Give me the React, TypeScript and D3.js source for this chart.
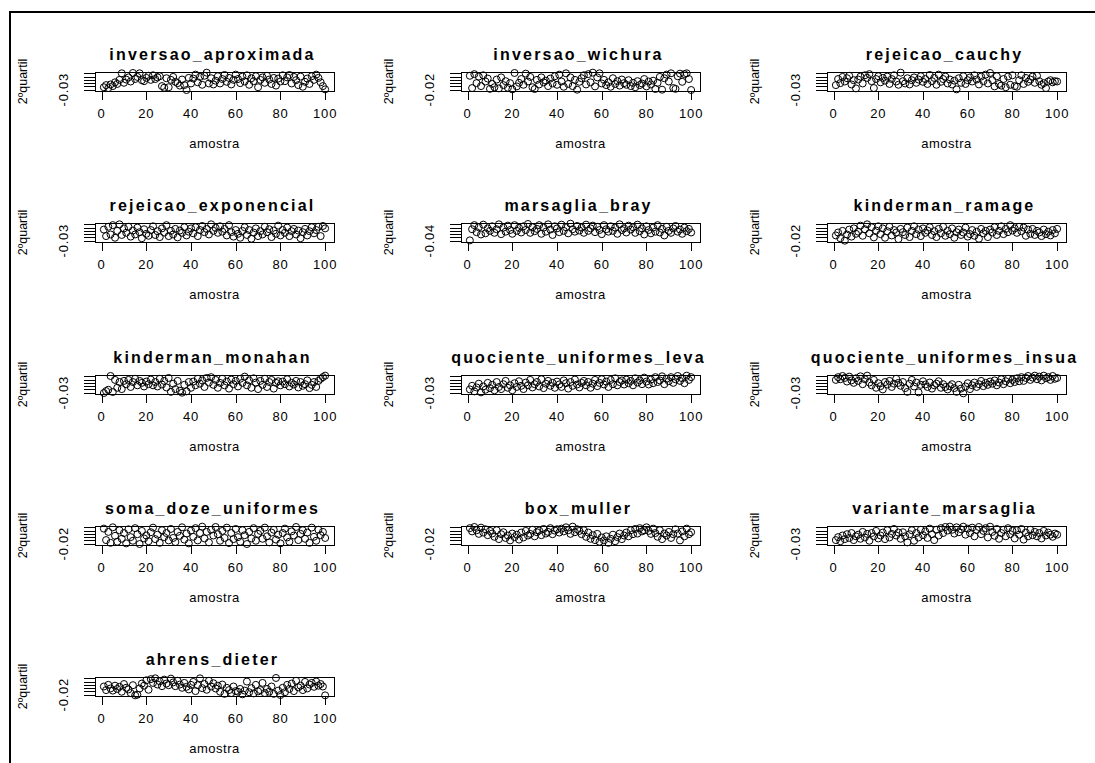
import React from "react";
import * as d3 from "d3";

// ---------- data ----------
const panelTitles = [
  "inversao_aproximada", "inversao_wichura", "rejeicao_cauchy",
  "rejeicao_exponencial", "marsaglia_bray", "kinderman_ramage",
  "kinderman_monahan", "quociente_uniformes_leva", "quociente_uniformes_insua",
  "soma_doze_uniformes", "box_muller", "variante_marsaglia",
  "ahrens_dieter",
];
const yLabelValues = [-0.03, -0.02, -0.03, -0.03, -0.04, -0.02, -0.03, -0.03, -0.03, -0.02, -0.02, -0.03, -0.02];
const yLabelTexts = ["-0.03", "-0.02", "-0.03", "-0.03", "-0.04", "-0.02", "-0.03", "-0.03", "-0.03", "-0.02", "-0.02", "-0.03", "-0.02"];
const yMinorStep = 0.002;
const yMinorCount = 6;
const xTicks = [0, 20, 40, 60, 80, 100];
const xTickLabels = ["0", "20", "40", "60", "80", "100"];
const xLabel = "amostra";
const yLabel = "2ºquartil";

const inversaoAproximada = [
  -0.0285, -0.0272, -0.0290, -0.0268, -0.0278, -0.0255, -0.0265, -0.0240, -0.0200, -0.0258,
  -0.0238, -0.0225, -0.0250, -0.0198, -0.0235, -0.0222, -0.0200, -0.0242, -0.0248, -0.0228,
  -0.0215, -0.0240, -0.0212, -0.0235, -0.0225, -0.0218, -0.0278, -0.0288, -0.0230, -0.0285,
  -0.0240, -0.0222, -0.0252, -0.0260, -0.0275, -0.0238, -0.0272, -0.0302, -0.0228, -0.0262,
  -0.0232, -0.0208, -0.0255, -0.0222, -0.0270, -0.0215, -0.0196, -0.0262, -0.0230, -0.0268,
  -0.0245, -0.0218, -0.0262, -0.0235, -0.0210, -0.0252, -0.0228, -0.0268, -0.0240, -0.0208,
  -0.0235, -0.0260, -0.0220, -0.0250, -0.0212, -0.0270, -0.0230, -0.0248, -0.0218, -0.0285,
  -0.0240, -0.0225, -0.0258, -0.0215, -0.0238, -0.0265, -0.0228, -0.0275, -0.0232, -0.0250,
  -0.0212, -0.0248, -0.0225, -0.0210, -0.0262, -0.0222, -0.0242, -0.0272, -0.0220, -0.0282,
  -0.0252, -0.0232, -0.0265, -0.0218, -0.0240, -0.0208, -0.0228, -0.0255, -0.0278, -0.0298,
];
const inversaoWichura = [
  -0.0115, -0.0190, -0.0105, -0.0160, -0.0120, -0.0178, -0.0112, -0.0150, -0.0132, -0.0195,
  -0.0165, -0.0185, -0.0138, -0.0192, -0.0125, -0.0172, -0.0148, -0.0188, -0.0160, -0.0198,
  -0.0098, -0.0180, -0.0158, -0.0135, -0.0170, -0.0102, -0.0150, -0.0122, -0.0185, -0.0196,
  -0.0140, -0.0168, -0.0125, -0.0155, -0.0145, -0.0178, -0.0132, -0.0162, -0.0118, -0.0170,
  -0.0108, -0.0150, -0.0182, -0.0100, -0.0165, -0.0125, -0.0178, -0.0140, -0.0200, -0.0152,
  -0.0130, -0.0112, -0.0168, -0.0105, -0.0155, -0.0096, -0.0180, -0.0125, -0.0100, -0.0162,
  -0.0140, -0.0172, -0.0155, -0.0182, -0.0130, -0.0165, -0.0148, -0.0175, -0.0138, -0.0160,
  -0.0170, -0.0142, -0.0178, -0.0158, -0.0185, -0.0148, -0.0172, -0.0162, -0.0135, -0.0180,
  -0.0150, -0.0168, -0.0145, -0.0196, -0.0158, -0.0122, -0.0200, -0.0130, -0.0108, -0.0150,
  -0.0100, -0.0190, -0.0195, -0.0118, -0.0102, -0.0152, -0.0105, -0.0100, -0.0135, -0.0202,
];
const rejeicaoCauchy = [
  -0.0272, -0.0235, -0.0260, -0.0222, -0.0250, -0.0230, -0.0215, -0.0268, -0.0242, -0.0292,
  -0.0238, -0.0220, -0.0262, -0.0212, -0.0228, -0.0205, -0.0248, -0.0290, -0.0235, -0.0218,
  -0.0255, -0.0228, -0.0245, -0.0220, -0.0265, -0.0235, -0.0212, -0.0250, -0.0270, -0.0196,
  -0.0248, -0.0262, -0.0230, -0.0268, -0.0242, -0.0225, -0.0258, -0.0238, -0.0218, -0.0252,
  -0.0235, -0.0265, -0.0210, -0.0248, -0.0228, -0.0270, -0.0208, -0.0252, -0.0235, -0.0220,
  -0.0262, -0.0238, -0.0268, -0.0245, -0.0298, -0.0230, -0.0258, -0.0218, -0.0265, -0.0242,
  -0.0225, -0.0250, -0.0212, -0.0238, -0.0268, -0.0220, -0.0248, -0.0208, -0.0262, -0.0198,
  -0.0242, -0.0280, -0.0218, -0.0265, -0.0275, -0.0235, -0.0285, -0.0220, -0.0270, -0.0212,
  -0.0278, -0.0282, -0.0242, -0.0212, -0.0265, -0.0228, -0.0252, -0.0238, -0.0220, -0.0258,
  -0.0215, -0.0248, -0.0270, -0.0260, -0.0290, -0.0250, -0.0242, -0.0255, -0.0248, -0.0250,
];
const rejeicaoExponencial = [
  -0.0232, -0.0272, -0.0215, -0.0262, -0.0205, -0.0282, -0.0240, -0.0200, -0.0265, -0.0225,
  -0.0252, -0.0215, -0.0275, -0.0238, -0.0262, -0.0220, -0.0248, -0.0285, -0.0230, -0.0258,
  -0.0270, -0.0235, -0.0212, -0.0265, -0.0242, -0.0278, -0.0225, -0.0250, -0.0205, -0.0272,
  -0.0240, -0.0262, -0.0228, -0.0280, -0.0238, -0.0252, -0.0218, -0.0268, -0.0245, -0.0225,
  -0.0255, -0.0218, -0.0272, -0.0235, -0.0210, -0.0248, -0.0228, -0.0262, -0.0200, -0.0240,
  -0.0222, -0.0252, -0.0212, -0.0245, -0.0228, -0.0268, -0.0205, -0.0248, -0.0275, -0.0235,
  -0.0258, -0.0282, -0.0240, -0.0218, -0.0265, -0.0235, -0.0288, -0.0250, -0.0225, -0.0272,
  -0.0242, -0.0262, -0.0215, -0.0248, -0.0230, -0.0278, -0.0238, -0.0258, -0.0208, -0.0268,
  -0.0235, -0.0252, -0.0220, -0.0272, -0.0242, -0.0228, -0.0262, -0.0238, -0.0285, -0.0248,
  -0.0228, -0.0268, -0.0242, -0.0218, -0.0255, -0.0235, -0.0215, -0.0272, -0.0210, -0.0225,
];
const marsagliaBray = [
  -0.0398, -0.0330, -0.0305, -0.0348, -0.0318, -0.0362, -0.0302, -0.0355, -0.0325, -0.0340,
  -0.0312, -0.0352, -0.0330, -0.0300, -0.0360, -0.0320, -0.0345, -0.0308, -0.0335, -0.0358,
  -0.0305, -0.0340, -0.0322, -0.0350, -0.0312, -0.0335, -0.0298, -0.0352, -0.0318, -0.0342,
  -0.0328, -0.0305, -0.0358, -0.0320, -0.0345, -0.0300, -0.0332, -0.0365, -0.0312, -0.0325,
  -0.0348, -0.0302, -0.0340, -0.0318, -0.0355, -0.0296, -0.0330, -0.0345, -0.0310, -0.0338,
  -0.0320, -0.0352, -0.0302, -0.0340, -0.0325, -0.0308, -0.0348, -0.0315, -0.0335, -0.0360,
  -0.0305, -0.0330, -0.0345, -0.0312, -0.0340, -0.0320, -0.0358, -0.0300, -0.0335, -0.0325,
  -0.0350, -0.0308, -0.0332, -0.0318, -0.0352, -0.0302, -0.0342, -0.0325, -0.0362, -0.0312,
  -0.0335, -0.0355, -0.0320, -0.0345, -0.0305, -0.0350, -0.0328, -0.0368, -0.0315, -0.0340,
  -0.0352, -0.0325, -0.0310, -0.0345, -0.0332, -0.0358, -0.0320, -0.0342, -0.0328, -0.0350,
];
const kindermanRamage = [
  -0.0168, -0.0150, -0.0185, -0.0140, -0.0200, -0.0162, -0.0132, -0.0175, -0.0125, -0.0158,
  -0.0145, -0.0108, -0.0170, -0.0130, -0.0100, -0.0155, -0.0118, -0.0180, -0.0138, -0.0112,
  -0.0160, -0.0125, -0.0182, -0.0142, -0.0115, -0.0168, -0.0135, -0.0150, -0.0190, -0.0128,
  -0.0148, -0.0165, -0.0120, -0.0178, -0.0140, -0.0112, -0.0160, -0.0132, -0.0172, -0.0125,
  -0.0152, -0.0138, -0.0118, -0.0165, -0.0142, -0.0178, -0.0128, -0.0155, -0.0115, -0.0170,
  -0.0140, -0.0160, -0.0125, -0.0182, -0.0148, -0.0132, -0.0165, -0.0150, -0.0120, -0.0175,
  -0.0160, -0.0135, -0.0170, -0.0145, -0.0188, -0.0128, -0.0155, -0.0140, -0.0178, -0.0132,
  -0.0150, -0.0118, -0.0165, -0.0140, -0.0112, -0.0160, -0.0128, -0.0148, -0.0105, -0.0138,
  -0.0125, -0.0152, -0.0115, -0.0142, -0.0120, -0.0170, -0.0132, -0.0158, -0.0128, -0.0165,
  -0.0140, -0.0150, -0.0172, -0.0132, -0.0160, -0.0145, -0.0168, -0.0135, -0.0155, -0.0128,
];
const kindermanMonahan = [
  -0.0302, -0.0290, -0.0282, -0.0198, -0.0296, -0.0222, -0.0270, -0.0235, -0.0278, -0.0228,
  -0.0248, -0.0222, -0.0265, -0.0235, -0.0215, -0.0255, -0.0228, -0.0240, -0.0262, -0.0232,
  -0.0248, -0.0220, -0.0255, -0.0235, -0.0262, -0.0215, -0.0250, -0.0228, -0.0268, -0.0210,
  -0.0295, -0.0245, -0.0278, -0.0228, -0.0288, -0.0300, -0.0252, -0.0292, -0.0235, -0.0270,
  -0.0232, -0.0255, -0.0215, -0.0245, -0.0225, -0.0265, -0.0210, -0.0238, -0.0205, -0.0252,
  -0.0222, -0.0270, -0.0240, -0.0215, -0.0255, -0.0232, -0.0275, -0.0220, -0.0248, -0.0228,
  -0.0262, -0.0215, -0.0240, -0.0202, -0.0255, -0.0225, -0.0270, -0.0212, -0.0238, -0.0278,
  -0.0228, -0.0252, -0.0215, -0.0265, -0.0235, -0.0222, -0.0275, -0.0240, -0.0230, -0.0255,
  -0.0232, -0.0248, -0.0218, -0.0262, -0.0240, -0.0250, -0.0228, -0.0268, -0.0235, -0.0258,
  -0.0248, -0.0225, -0.0272, -0.0252, -0.0235, -0.0265, -0.0228, -0.0215, -0.0205, -0.0196,
];
const quocienteUniformesLeva = [
  -0.0280, -0.0258, -0.0292, -0.0268, -0.0245, -0.0298, -0.0262, -0.0282, -0.0240, -0.0272,
  -0.0252, -0.0285, -0.0235, -0.0265, -0.0278, -0.0248, -0.0228, -0.0270, -0.0255, -0.0285,
  -0.0242, -0.0265, -0.0230, -0.0258, -0.0278, -0.0238, -0.0255, -0.0222, -0.0268, -0.0248,
  -0.0235, -0.0262, -0.0218, -0.0272, -0.0245, -0.0228, -0.0258, -0.0240, -0.0270, -0.0232,
  -0.0250, -0.0265, -0.0225, -0.0242, -0.0275, -0.0235, -0.0258, -0.0220, -0.0250, -0.0268,
  -0.0240, -0.0228, -0.0255, -0.0235, -0.0270, -0.0245, -0.0222, -0.0260, -0.0240, -0.0218,
  -0.0250, -0.0232, -0.0265, -0.0222, -0.0248, -0.0212, -0.0255, -0.0235, -0.0225, -0.0250,
  -0.0220, -0.0242, -0.0228, -0.0255, -0.0212, -0.0238, -0.0225, -0.0248, -0.0208, -0.0232,
  -0.0250, -0.0220, -0.0242, -0.0205, -0.0235, -0.0225, -0.0200, -0.0248, -0.0215, -0.0230,
  -0.0205, -0.0240, -0.0218, -0.0198, -0.0228, -0.0212, -0.0242, -0.0196, -0.0222, -0.0205,
];
const quocienteUniformesInsua = [
  -0.0222, -0.0205, -0.0218, -0.0198, -0.0210, -0.0232, -0.0202, -0.0225, -0.0240, -0.0212,
  -0.0228, -0.0200, -0.0248, -0.0218, -0.0196, -0.0238, -0.0255, -0.0222, -0.0270, -0.0242,
  -0.0260, -0.0280, -0.0235, -0.0250, -0.0228, -0.0265, -0.0245, -0.0215, -0.0240, -0.0258,
  -0.0235, -0.0272, -0.0295, -0.0245, -0.0222, -0.0262, -0.0238, -0.0298, -0.0252, -0.0230,
  -0.0250, -0.0265, -0.0238, -0.0275, -0.0255, -0.0245, -0.0230, -0.0270, -0.0248, -0.0265,
  -0.0280, -0.0260, -0.0248, -0.0272, -0.0295, -0.0252, -0.0275, -0.0304, -0.0262, -0.0242,
  -0.0278, -0.0255, -0.0238, -0.0265, -0.0248, -0.0228, -0.0260, -0.0240, -0.0252, -0.0232,
  -0.0245, -0.0225, -0.0255, -0.0238, -0.0218, -0.0248, -0.0230, -0.0215, -0.0242, -0.0222,
  -0.0235, -0.0212, -0.0230, -0.0205, -0.0228, -0.0210, -0.0198, -0.0222, -0.0208, -0.0196,
  -0.0218, -0.0202, -0.0225, -0.0196, -0.0212, -0.0205, -0.0222, -0.0198, -0.0215, -0.0210,
];
const somaDozeUniformes = [
  -0.0108, -0.0178, -0.0128, -0.0195, -0.0100, -0.0152, -0.0188, -0.0118, -0.0170, -0.0135,
  -0.0198, -0.0112, -0.0160, -0.0182, -0.0105, -0.0142, -0.0202, -0.0122, -0.0168, -0.0150,
  -0.0185, -0.0130, -0.0102, -0.0172, -0.0145, -0.0195, -0.0118, -0.0160, -0.0135, -0.0180,
  -0.0110, -0.0165, -0.0190, -0.0128, -0.0152, -0.0100, -0.0175, -0.0138, -0.0198, -0.0120,
  -0.0158, -0.0105, -0.0180, -0.0135, -0.0096, -0.0168, -0.0128, -0.0192, -0.0115, -0.0150,
  -0.0098, -0.0142, -0.0182, -0.0122, -0.0165, -0.0102, -0.0196, -0.0135, -0.0172, -0.0110,
  -0.0160, -0.0188, -0.0118, -0.0148, -0.0202, -0.0128, -0.0168, -0.0105, -0.0182, -0.0140,
  -0.0122, -0.0170, -0.0102, -0.0155, -0.0192, -0.0132, -0.0115, -0.0175, -0.0145, -0.0198,
  -0.0135, -0.0108, -0.0162, -0.0188, -0.0125, -0.0150, -0.0098, -0.0178, -0.0140, -0.0118,
  -0.0170, -0.0132, -0.0195, -0.0102, -0.0158, -0.0182, -0.0115, -0.0148, -0.0128, -0.0165,
];
const boxMuller = [
  -0.0105, -0.0125, -0.0098, -0.0118, -0.0140, -0.0102, -0.0132, -0.0112, -0.0148, -0.0122,
  -0.0138, -0.0158, -0.0118, -0.0172, -0.0142, -0.0130, -0.0165, -0.0150, -0.0180, -0.0138,
  -0.0160, -0.0145, -0.0175, -0.0132, -0.0162, -0.0122, -0.0150, -0.0140, -0.0115, -0.0155,
  -0.0130, -0.0120, -0.0148, -0.0110, -0.0138, -0.0128, -0.0105, -0.0142, -0.0120, -0.0112,
  -0.0132, -0.0108, -0.0125, -0.0100, -0.0118, -0.0140, -0.0096, -0.0130, -0.0112, -0.0122,
  -0.0142, -0.0118, -0.0158, -0.0132, -0.0170, -0.0148, -0.0178, -0.0140, -0.0188, -0.0162,
  -0.0180, -0.0155, -0.0195, -0.0170, -0.0145, -0.0185, -0.0160, -0.0138, -0.0172, -0.0150,
  -0.0132, -0.0155, -0.0118, -0.0142, -0.0110, -0.0138, -0.0105, -0.0125, -0.0118, -0.0100,
  -0.0122, -0.0140, -0.0108, -0.0135, -0.0158, -0.0118, -0.0172, -0.0138, -0.0150, -0.0128,
  -0.0165, -0.0142, -0.0112, -0.0138, -0.0180, -0.0125, -0.0155, -0.0108, -0.0142, -0.0130,
];
const varianteMarsaglia = [
  -0.0278, -0.0260, -0.0285, -0.0250, -0.0272, -0.0242, -0.0265, -0.0235, -0.0278, -0.0255,
  -0.0245, -0.0270, -0.0228, -0.0262, -0.0240, -0.0282, -0.0235, -0.0255, -0.0222, -0.0268,
  -0.0250, -0.0232, -0.0272, -0.0218, -0.0262, -0.0240, -0.0210, -0.0250, -0.0232, -0.0270,
  -0.0230, -0.0255, -0.0292, -0.0242, -0.0218, -0.0282, -0.0235, -0.0262, -0.0215, -0.0248,
  -0.0225, -0.0265, -0.0208, -0.0242, -0.0278, -0.0215, -0.0250, -0.0205, -0.0235, -0.0198,
  -0.0220, -0.0196, -0.0215, -0.0238, -0.0200, -0.0230, -0.0212, -0.0196, -0.0245, -0.0208,
  -0.0235, -0.0202, -0.0255, -0.0215, -0.0198, -0.0242, -0.0222, -0.0205, -0.0262, -0.0196,
  -0.0228, -0.0252, -0.0210, -0.0270, -0.0235, -0.0215, -0.0255, -0.0205, -0.0242, -0.0222,
  -0.0268, -0.0218, -0.0245, -0.0210, -0.0275, -0.0232, -0.0255, -0.0215, -0.0248, -0.0228,
  -0.0255, -0.0235, -0.0268, -0.0222, -0.0250, -0.0232, -0.0245, -0.0258, -0.0238, -0.0245,
];
const ahrensDieter = [
  -0.0150, -0.0172, -0.0140, -0.0162, -0.0175, -0.0145, -0.0165, -0.0152, -0.0182, -0.0135,
  -0.0158, -0.0168, -0.0190, -0.0142, -0.0204, -0.0200, -0.0162, -0.0132, -0.0145, -0.0112,
  -0.0170, -0.0105, -0.0128, -0.0100, -0.0138, -0.0118, -0.0148, -0.0108, -0.0132, -0.0142,
  -0.0102, -0.0125, -0.0148, -0.0115, -0.0138, -0.0158, -0.0128, -0.0152, -0.0168, -0.0140,
  -0.0122, -0.0178, -0.0142, -0.0100, -0.0160, -0.0135, -0.0170, -0.0115, -0.0150, -0.0130,
  -0.0162, -0.0145, -0.0182, -0.0138, -0.0195, -0.0158, -0.0172, -0.0190, -0.0150, -0.0178,
  -0.0182, -0.0165, -0.0198, -0.0175, -0.0120, -0.0185, -0.0160, -0.0192, -0.0140, -0.0180,
  -0.0172, -0.0128, -0.0190, -0.0165, -0.0182, -0.0150, -0.0195, -0.0098, -0.0175, -0.0202,
  -0.0158, -0.0185, -0.0140, -0.0165, -0.0132, -0.0178, -0.0115, -0.0155, -0.0145, -0.0172,
  -0.0122, -0.0162, -0.0138, -0.0128, -0.0152, -0.0120, -0.0145, -0.0135, -0.0150, -0.0204,
];

const seriesList = [
  inversaoAproximada, inversaoWichura, rejeicaoCauchy,
  rejeicaoExponencial, marsagliaBray, kindermanRamage,
  kindermanMonahan, quocienteUniformesLeva, quocienteUniformesInsua,
  somaDozeUniformes, boxMuller, varianteMarsaglia,
  ahrensDieter,
];

// ---------- layout ----------
const W = 1095;
const H = 763;
const FONT = "'Liberation Sans', Arial, Helvetica, sans-serif";
const COL_STEP = 366;
const ROW_STEP = 151.25;
const BOX_X0 = 95;
const BOX_Y0 = 72;
const BOX_W = 239;
const BOX_H = 19;
const TICK = 9;

function Panel({ idx }: { idx: number }) {
  const col = idx % 3;
  const row = Math.floor(idx / 3);
  const left = BOX_X0 + COL_STEP * col;
  const top = Math.round(BOX_Y0 + ROW_STEP * row);
  const data = seriesList[idx];
  const n = data.length;
  const pad = 0.04 * (n - 1);
  const x = d3.scaleLinear().domain([1 - pad, n + pad]).range([left, left + BOX_W]);
  const L = yLabelValues[idx];
  const yTicks = d3.range(yMinorCount).map((k) => L + k * yMinorStep);
  const span = (yMinorCount - 1) * yMinorStep;
  const y = d3.scaleLinear().domain([L - 0.0008, L + span + 0.0008]).range([top + BOX_H, top]);
  const cx = left + BOX_W / 2;
  const cy = top + BOX_H / 2;
  return (
    <g>
      <text x={cx - 2} y={top - 12} textAnchor="middle" fontFamily={FONT} fontWeight="bold" fontSize={16} letterSpacing={2.2}>
        {panelTitles[idx]}
      </text>
      {data.map((v, i) => (
        <circle key={i} cx={x(i + 1)} cy={y(v)} r={3.5} fill="none" stroke="#000" strokeWidth={1} />
      ))}
      <rect x={left + 0.5} y={top + 0.5} width={BOX_W} height={BOX_H} fill="none" stroke="#000" strokeWidth={1} />
      {xTicks.map((t, i) => (
        <g key={i}>
          <line x1={Math.round(x(t)) + 0.5} x2={Math.round(x(t)) + 0.5} y1={top + BOX_H} y2={top + BOX_H + TICK} stroke="#000" />
          <text x={x(t)} y={top + BOX_H + 27} textAnchor="middle" fontFamily={FONT} fontSize={13} letterSpacing={0.8}>
            {xTickLabels[i]}
          </text>
        </g>
      ))}
      {yTicks.map((t, i) => (
        <line key={i} x1={left - TICK - 2} x2={left} y1={Math.round(y(t)) + 0.5} y2={Math.round(y(t)) + 0.5} stroke="#000" />
      ))}
      <text transform={`translate(${left - 27},${y(yTicks[0])}) rotate(-90)`} textAnchor="middle" fontFamily={FONT} fontSize={13} letterSpacing={0.8}>
        {yLabelTexts[idx]}
      </text>
      <text x={cx} y={top + BOX_H + 57} textAnchor="middle" fontFamily={FONT} fontSize={13} letterSpacing={0.5}>
        {xLabel}
      </text>
      <text transform={`translate(${left - 68},${cy}) rotate(-90)`} textAnchor="middle" fontFamily={FONT} fontSize={12.5}>
        {yLabel}
      </text>
    </g>
  );
}

export default function App() {
  return (
    <svg width={W} height={H} style={{ position: "absolute", left: 0, top: 0, background: "#fff" }}>
      <rect x={0} y={0} width={W} height={H} fill="#fff" />
      <line x1={10} x2={W} y1={12} y2={12} stroke="#000" strokeWidth={2} />
      <line x1={10} x2={10} y1={11} y2={H} stroke="#000" strokeWidth={2} />
      {panelTitles.map((_, i) => (
        <Panel key={i} idx={i} />
      ))}
    </svg>
  );
}
